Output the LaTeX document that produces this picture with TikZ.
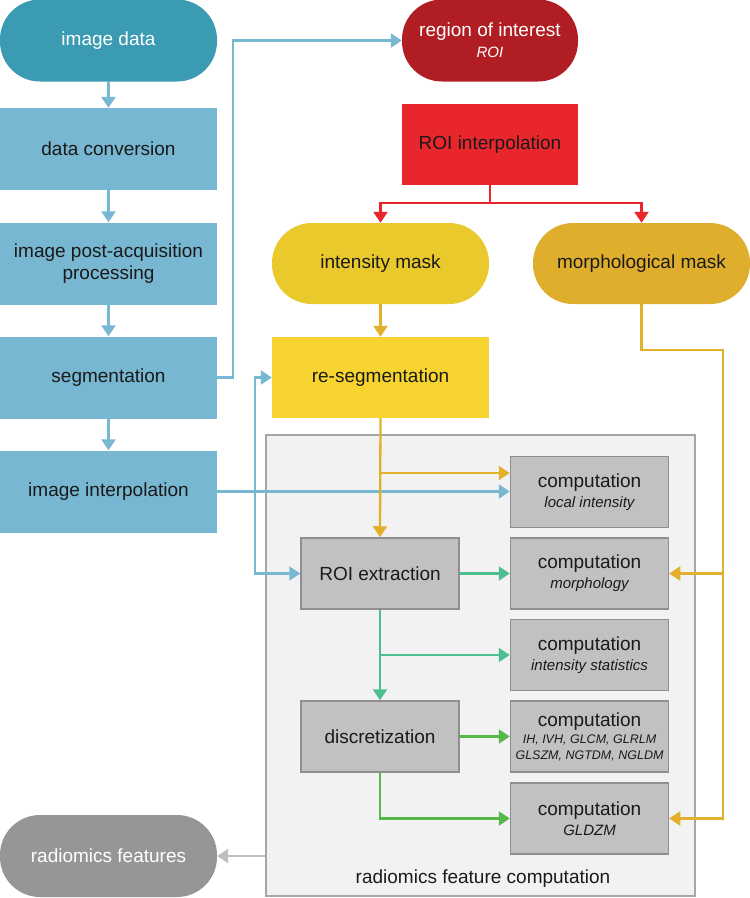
\documentclass[tikz,border=0pt]{standalone}
\usepackage{fontspec}
\setmainfont{Liberation Sans}
\usetikzlibrary{arrows.meta}
\definecolor{cteal}{HTML}{3A9BB3}
\definecolor{clblue}{HTML}{78B7D1}
\definecolor{cbline}{HTML}{79B8D3}
\definecolor{cdred}{HTML}{B01E24}
\definecolor{cred}{HTML}{E8262B}
\definecolor{cypill}{HTML}{E9C92B}
\definecolor{cgpill}{HTML}{DEAE2C}
\definecolor{cybox}{HTML}{F7D42F}
\definecolor{cyline}{HTML}{E2B02B}
\definecolor{cgreenA}{HTML}{4DBE8F}
\definecolor{cgreenB}{HTML}{56B849}
\definecolor{cgbox}{HTML}{C1C1C1}
\definecolor{cgborder}{HTML}{8F8F8F}
\definecolor{cpanel}{HTML}{F2F2F2}
\definecolor{cpborder}{HTML}{A6A6A6}
\definecolor{crad}{HTML}{969696}
\definecolor{cgline}{HTML}{BFBFBF}
\definecolor{ctext}{HTML}{1A1A1A}
\newcommand{\mysubfont}{\fontsize{15}{17}\selectfont\itshape}
\newcommand{\mytinyfont}{\fontsize{12.5}{14.5}\selectfont\itshape}
\tikzset{
  bigbox/.style={rectangle, minimum width=217pt, minimum height=82pt, inner sep=0pt,
    font=\fontsize{19}{22}\selectfont, align=center, text=ctext},
  pillbox/.style={bigbox, rounded corners=40pt},
  compbox/.style={rectangle, draw=cgborder, fill=cgbox, line width=1.5pt,
    minimum width=158pt, minimum height=71pt, inner sep=0pt,
    font=\fontsize{19}{20}\selectfont, align=center, text=ctext},
  conn/.style={line width=2.3pt, -{Triangle[length=11pt,width=14pt]}},
  plainconn/.style={line width=2.3pt},
}
\begin{document}
\begin{tikzpicture}[x=1pt,y=-1pt]
\useasboundingbox (0,0) rectangle (750,898);
% panel
\node[rectangle, draw=cpborder, fill=cpanel, line width=1.5pt, minimum width=429pt, minimum height=461pt, inner sep=0pt] (panel) at (480.5,665.5) {};
\node[font=\fontsize{19}{22}\selectfont, text=ctext] (paneltitle) at (483,879) {radiomics feature computation};
% left column
\node[pillbox, fill=cteal, text=white] (imgdata) at (108.5,40.5) {image data};
\node[bigbox, fill=clblue] (conv) at (108.5,149) {data conversion};
\node[bigbox, fill=clblue] (post) at (108.5,263.5) {image post-acquisition\\processing};
\node[bigbox, fill=clblue] (seg) at (108.5,377.5) {segmentation};
\node[bigbox, fill=clblue] (interp) at (108.5,491.5) {image interpolation};
\node[pillbox, fill=crad, text=white] (radfeat) at (108.5,856) {radiomics features};
% ROI
\node[pillbox, fill=cdred, text=white, minimum width=176pt] (roi) at (490,40.5) {region of interest\\[-1pt]{\mysubfont ROI}};
\node[bigbox, fill=cred, minimum width=176pt, minimum height=81pt] (roiint) at (490,144.5) {ROI interpolation};
\node[pillbox, fill=cypill, minimum height=81pt] (imask) at (380.5,263.5) {intensity mask};
\node[pillbox, fill=cgpill, minimum height=81pt] (mmask) at (641.5,263.5) {morphological mask};
\node[bigbox, fill=cybox, minimum height=81pt] (reseg) at (380.5,377.5) {re-segmentation};
% computation boxes
\node[compbox] (locint) at (589.5,492) {computation\\{\mysubfont local intensity}};
\node[compbox] (roiext) at (380,573.5) {ROI extraction};
\node[compbox] (morph) at (589.5,573.5) {computation\\{\mysubfont morphology}};
\node[compbox] (istat) at (589.5,655) {computation\\{\mysubfont intensity statistics}};
\node[compbox] (disc) at (380,736.5) {discretization};
\node[compbox] (ih) at (589.5,736.5) {computation\\[-3pt]{\mytinyfont IH, IVH, GLCM, GLRLM}\\[-4pt]{\mytinyfont GLSZM, NGTDM, NGLDM}};
\node[compbox] (gldzm) at (589.5,818.5) {computation\\{\mysubfont GLDZM}};
% blue connectors
\draw[conn, cbline] (imgdata) -- (conv);
\draw[conn, cbline] (conv) -- (post);
\draw[conn, cbline] (post) -- (seg);
\draw[conn, cbline] (seg) -- (interp);
\coordinate (segturn) at (233,377.5);
\draw[conn, cbline] (seg.east) -- (segturn) |- (roi.west);
\draw[conn, cbline] (interp.east) -- (interp.east -| locint.west);
\coordinate (bsplit) at (255,491.5);
\draw[conn, cbline] (bsplit) |- (reseg.west);
\draw[conn, cbline] (bsplit) |- (roiext.west);
% red connectors
\coordinate (rsplit) at (490,203);
\draw[plainconn, cred] (roiint.south) -- (rsplit);
\draw[conn, cred] (rsplit) -| (imask.north);
\draw[conn, cred] (rsplit) -| (mmask.north);
% yellow connectors
\draw[conn, cyline] (imask) -- (reseg);
\draw[conn, cyline] (reseg.south) -- (roiext.north);
\coordinate (ysplit) at (380.5,473);
\draw[conn, cyline] (ysplit) -- (ysplit -| locint.west);
\coordinate (mturn) at (641.5,350);
\coordinate (mright) at (723,350);
\coordinate (mbottom) at (723,818.5);
\draw[conn, cyline] (mmask.south) -- (mturn) -- (mright) -- (mbottom) -- (gldzm.east);
\coordinate (mmid) at (723,573.5);
\draw[conn, cyline] (mmid) -- (morph.east);
% green connectors
\draw[conn, cgreenA] (roiext) -- (morph);
\draw[conn, cgreenA] (roiext) -- (disc);
\coordinate (gsplit) at (380,655);
\draw[conn, cgreenA] (gsplit) -- (istat.west);
\draw[conn, cgreenB] (disc) -- (ih);
\draw[conn, cgreenB] (disc.south) |- (gldzm.west);
% gray
\draw[conn, cgline] (panel.west |- radfeat.east) -- (radfeat.east);
\end{tikzpicture}
\end{document}
